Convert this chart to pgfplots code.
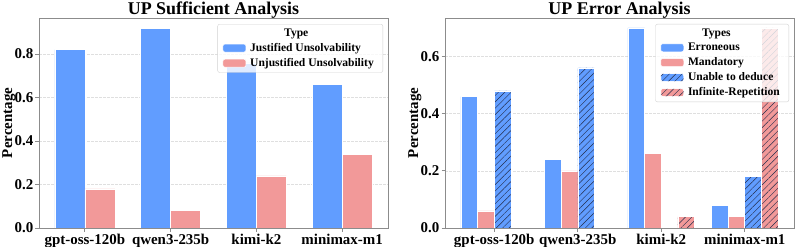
\documentclass[border=0pt]{standalone}
\usepackage{fontspec}
\setmainfont{Liberation Serif}
\usepackage{pgfplots}
\pgfplotsset{compat=1.18}
\usetikzlibrary{patterns.meta}
\definecolor{bblue}{RGB}{97,157,255}
\definecolor{bpink}{RGB}{242,153,153}
\definecolor{hatchc}{RGB}{35,45,75}
\definecolor{framec}{RGB}{140,140,140}
\pgfplotsset{
  mystyle/.style={
    scale only axis, width=349bp, height=210bp,
    axis line style={framec, line width=0.9bp},
    ymin=0,
    xtick={0,1,2,3},
    xticklabels={gpt-oss-120b,qwen3-235b,kimi-k2,minimax-m1},
    tick align=outside, xtick pos=bottom, ytick pos=left,
    major tick length=3.5bp,
    tick style={framec, line width=0.8bp},
    scaled y ticks=false,
    yticklabel style={inner sep=2bp, /pgf/number format/fixed, /pgf/number format/fixed zerofill, /pgf/number format/precision=1, /pgf/number format/assume math mode=true},
    ticklabel style={font=\bfseries\fontsize{15}{15}\selectfont},
    xticklabel style={inner sep=2bp},
    ylabel={Percentage},
    ylabel style={font=\bfseries\fontsize{15}{15}\selectfont, at={(axis description cs:-0.086,0.5)}, anchor=center},
    every axis title shift=0pt,
    title style={font=\bfseries\fontsize{18}{18}\selectfont, at={(0.5,1)}, anchor=base, yshift=3.5bp, inner sep=0bp},
    ymajorgrids,
    major grid style={gray!25, dash pattern=on 2.5bp off 1.5bp, line width=0.5bp},
    legend cell align=left,
    legend style={at={(1,1)}, anchor=north east, xshift=-5bp, yshift=-6bp,
      draw=gray!35, rounded corners=2bp, fill=white, fill opacity=0.8, text opacity=1,
      font=\bfseries\fontsize{11.6}{13.5}\selectfont, inner xsep=5bp, inner ysep=2.5bp, row sep=1.5bp,
      nodes={inner xsep=4bp}},
    legend image code/.code={\draw[#1, fill opacity=1, draw opacity=1] (0bp,-4bp) rectangle (23bp,4bp);},
  }
}
\begin{document}
\begin{tikzpicture}
\useasboundingbox (0,0) rectangle (797bp,247bp);
\begin{axis}[mystyle, at={(39bp,19bp)}, anchor=south west,
  title={UP Sufficient Analysis},
  xmin=-0.535, xmax=3.535, ymax=0.966,
  ytick={0,0.2,0.4,0.6,0.8}]
\addlegendimage{empty legend}
\addlegendentry{\hspace{34bp}Type}
\addplot[ybar, bar width=0.35, bar shift=-0.175, fill=bblue, draw=white, line width=0.5bp]
  coordinates {(0,0.82)(1,0.92)(2,0.76)(3,0.66)};
\addlegendentry{Justified Unsolvability}
\addplot[ybar, bar width=0.35, bar shift=0.175, fill=bpink, draw=white, line width=0.5bp]
  coordinates {(0,0.18)(1,0.08)(2,0.24)(3,0.34)};
\addlegendentry{Unjustified Unsolvability}
\end{axis}
\begin{axis}[mystyle, at={(445bp,19bp)}, anchor=south west,
  title={UP Error Analysis},
  xmin=-0.59, xmax=3.59, ymax=0.735,
  ytick={0,0.2,0.4,0.6}]
\addlegendimage{empty legend}
\addlegendentry{\hspace{14bp}Types}
\addplot[ybar, bar width=0.2, bar shift=-0.3, fill=bblue, draw=white, line width=0.5bp]
  coordinates {(0,0.46)(1,0.24)(2,0.70)(3,0.08)};
\addlegendentry{Erroneous}
\addplot[ybar, bar width=0.2, bar shift=-0.1, fill=bpink, draw=white, line width=0.5bp]
  coordinates {(0,0.06)(1,0.20)(2,0.26)(3,0.04)};
\addlegendentry{Mandatory}
\addplot[ybar, bar width=0.2, bar shift=0.1, fill=bblue, draw=white, line width=0.5bp,
  postaction={pattern={Lines[angle=45, distance=4.5bp, line width=0.45bp]}, pattern color=hatchc}]
  coordinates {(0,0.48)(1,0.56)(3,0.18)};
\addlegendentry{Unable to deduce}
\addplot[ybar, bar width=0.2, bar shift=0.3, fill=bpink, draw=white, line width=0.5bp,
  postaction={pattern={Lines[angle=45, distance=4.5bp, line width=0.45bp]}, pattern color=hatchc}]
  coordinates {(2,0.04)(3,0.70)};
\addlegendentry{Infinite-Repetition}
\end{axis}
\end{tikzpicture}
\end{document}
